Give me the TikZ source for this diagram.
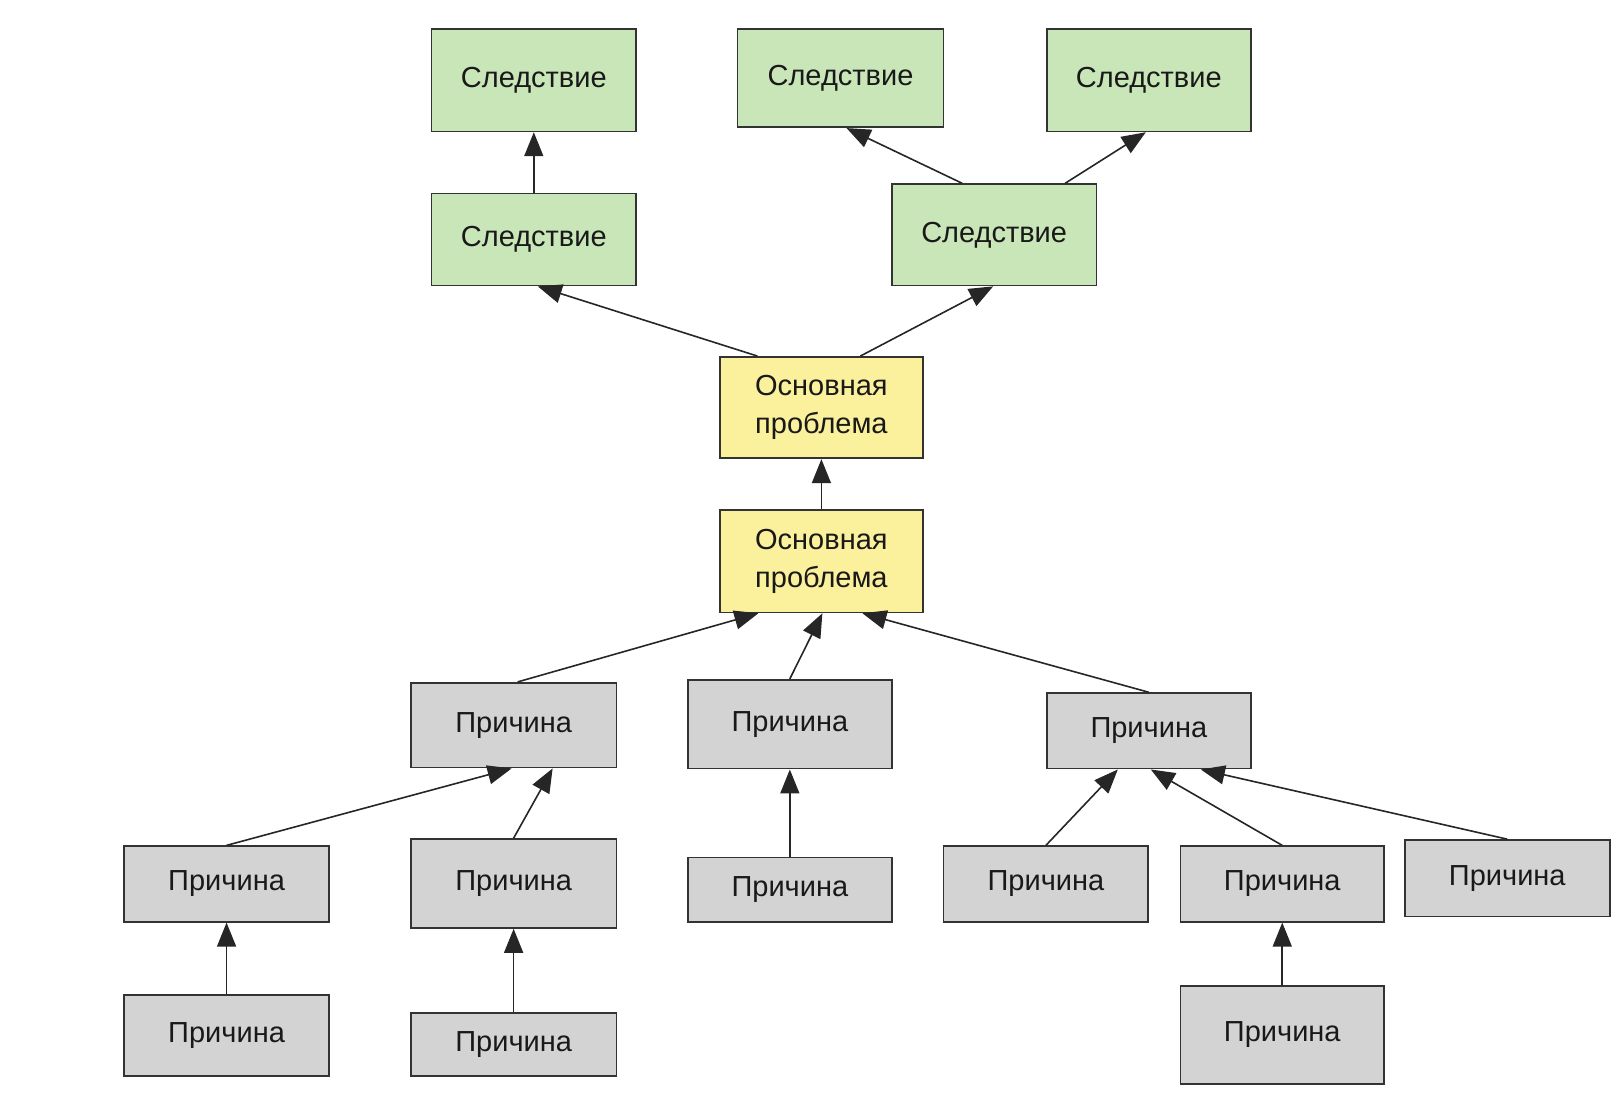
\documentclass[tikz,border=0pt]{standalone}
\usepackage{fontspec}
\setmainfont{Liberation Sans}
\usetikzlibrary{arrows.meta}
\definecolor{gfill}{HTML}{C9E6B9}
\definecolor{yfill}{HTML}{FBF09C}
\definecolor{pfill}{HTML}{D3D3D3}
\definecolor{bord}{HTML}{333333}
\tikzset{
  boxbase/.style={draw=bord, line width=1.7pt, inner sep=0pt, align=center,
    font=\fontsize{29}{38}\selectfont, text=black!90},
  gbox/.style={boxbase, fill=gfill},
  ybox/.style={boxbase, fill=yfill},
  pbox/.style={boxbase, fill=pfill},
  conn/.style={draw=black!85, line width=1.6pt, -{Triangle[length=24pt,width=19pt]}}
}
\newcommand{\bx}[7]{% style, name, x1, y1, x2, y2, text
  \node[#1, minimum width={1.0345*(#5-#3)}, minimum height={1.0345*(#6-#4)}] (#2) at ({(#3+#5)/2},{(#4+#6)/2}) {#7};}
\begin{document}
\begin{tikzpicture}[x=1pt,y=-1pt]
\useasboundingbox (0,0) rectangle (1620,1113);
\begin{scope}[x=1.0345pt,y=-1.0345pt]
% green
\bx{gbox}{g1}{417}{28}{615}{127}{Следствие}
\bx{gbox}{g2}{417}{187}{615}{276}{Следствие}
\bx{gbox}{g3}{713}{28}{912}{123}{Следствие}
\bx{gbox}{g4}{1012}{28}{1209}{127}{Следствие}
\bx{gbox}{g5}{862}{178}{1060}{276}{Следствие}
% yellow
\bx{ybox}{y1}{696}{345}{892}{443}{Основная\\проблема}
\bx{ybox}{y2}{696}{493}{892}{592}{Основная\\проблема}
% gray
\bx{pbox}{p1}{397}{660}{596}{742}{Причина}
\bx{pbox}{p2}{665}{657}{862}{743}{Причина}
\bx{pbox}{p3}{1012}{670}{1209}{743}{Причина}
\bx{pbox}{p4}{120}{818}{318}{891}{Причина}
\bx{pbox}{p5}{397}{811}{596}{897}{Причина}
\bx{pbox}{p6}{665}{829}{862}{891}{Причина}
\bx{pbox}{p7}{912}{818}{1110}{891}{Причина}
\bx{pbox}{p8}{1141}{818}{1338}{891}{Причина}
\bx{pbox}{p9}{1358}{812}{1556}{886}{Причина}
\bx{pbox}{p10}{120}{962}{318}{1040}{Причина}
\bx{pbox}{p11}{397}{979}{596}{1040}{Причина}
\bx{pbox}{p12}{1141}{953}{1338}{1048}{Причина}
% connectors
\draw[conn] (g2.north) -- (g1.south);
\draw[conn] ([xshift=-32pt]g5.north) -- ([xshift=6pt]g3.south);
\draw[conn] ([xshift=71pt]g5.north) -- ([xshift=-3pt]g4.south);
\draw[conn] ([xshift=-64pt]y1.north) -- ([xshift=4pt]g2.south);
\draw[conn] ([xshift=39pt]y1.north) -- ([xshift=-1pt]g5.south);
\draw[conn] (y2.north) -- (y1.south);
\draw[conn] ([xshift=4pt]p1.north) -- ([xshift=-63pt]y2.south);
\draw[conn] (p2.north) -- ([xshift=1pt]y2.south);
\draw[conn] (p3.north) -- ([xshift=41pt]y2.south);
\draw[conn] (p4.north) -- ([xshift=-2pt]p1.south);
\draw[conn] (p5.north) -- ([xshift=39pt]p1.south);
\draw[conn] (p6.north) -- (p2.south);
\draw[conn] (p7.north) -- ([xshift=-31pt]p3.south);
\draw[conn] (p8.north) -- ([xshift=2pt]p3.south);
\draw[conn] (p9.north) -- ([xshift=52pt]p3.south);
\draw[conn] (p10.north) -- (p4.south);
\draw[conn] (p11.north) -- (p5.south);
\draw[conn] (p12.north) -- (p8.south);
\end{scope}
\end{tikzpicture}
\end{document}
